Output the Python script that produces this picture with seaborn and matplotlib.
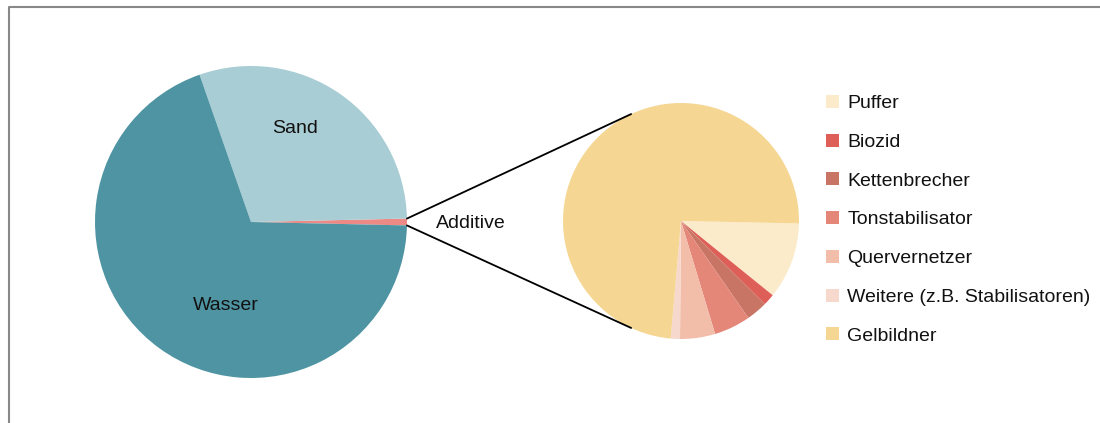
import numpy as np
import matplotlib
matplotlib.use("Agg")
import matplotlib.pyplot as plt
import seaborn as sns

# main pie (share in %)
main_labels = ["Additive", "Sand", "Wasser"]
main_values = [0.7, 30.0, 69.3]
main_colors = ["#ee8a86", "#a9cdd4", "#4f94a3"]

# breakdown of the additives (share in %)
add_labels = ["Puffer", "Biozid", "Kettenbrecher", "Tonstabilisator",
              "Quervernetzer", "Weitere (z.B. Stabilisatoren)", "Gelbildner"]
add_values = [10.5, 1.6, 2.9, 5.0, 4.8, 1.25, 73.95]
add_colors = ["#fbebcb", "#de5f57", "#c97566", "#e58778",
              "#f2bda9", "#f7d8cc", "#f5d793"]

sns.set_theme(style="white")
plt.rcParams["font.family"] = ["Liberation Sans", "DejaVu Sans"]

W, H = 1100, 423
fig = plt.figure(figsize=(W / 100, H / 100), dpi=100)
ax = fig.add_axes([0, 0, 1, 1])

# left pie
c1, r1 = (251, 201), 156
add_angle = 360 * main_values[0] / sum(main_values)
ax.pie(main_values, colors=main_colors, startangle=-add_angle / 2,
       center=c1, radius=r1, wedgeprops=dict(linewidth=0), frame=True)

# right pie
c2, r2 = (681, 202), 118
wedges, _ = ax.pie(add_values, colors=add_colors, startangle=-1.2, counterclock=False,
                   center=c2, radius=r2, wedgeprops=dict(linewidth=0), frame=True)
ax.set_xlim(0, W)
ax.set_ylim(0, H)
ax.set_aspect("equal")
ax.axis("off")

# connection lines
for sgn in (1, -1):
    a1 = np.deg2rad(sgn * add_angle / 2)
    a2 = np.deg2rad(sgn * 115)
    ax.plot([c1[0] + r1 * np.cos(a1), c2[0] + r2 * np.cos(a2)],
            [c1[1] + r1 * np.sin(a1), c2[1] + r2 * np.sin(a2)],
            color="black", lw=1.3)

ax.text(295, 295, "Sand", fontsize=14, ha="center", va="center", color="#111111")
ax.text(226, 118, "Wasser", fontsize=14, ha="center", va="center", color="#111111")
ax.text(436, 200, "Additive", fontsize=14, ha="left", va="center", color="#111111")

ax.legend(wedges, add_labels, loc="upper left", bbox_to_anchor=(826 / W, 1 - 95 / H),
          frameon=False, fontsize=14, handlelength=0.65, handleheight=0.65,
          handletextpad=0.45, labelspacing=1.1, borderpad=0, borderaxespad=0,
          labelcolor="#111111")

# outer frame
ax.plot([9, 9, W + 5], [-5, H - 7, H - 7], color="#888888", lw=1.5, clip_on=False)

fig.savefig("out.png", dpi=100)
